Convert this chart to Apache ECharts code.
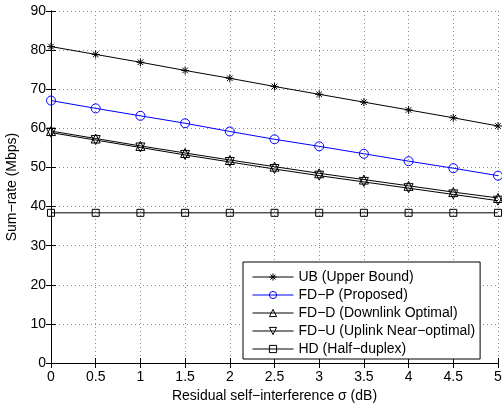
<!DOCTYPE html>
<html>
<head>
<meta charset="utf-8">
<script src="https://cdn.jsdelivr.net/npm/echarts@6/dist/echarts.min.js"></script>
<style>html,body{margin:0;padding:0;background:#fff;}#c{width:502px;height:405px;}</style>
</head>
<body>
<div id="c"></div>
<script>
var sigma = [0, 0.5, 1, 1.5, 2, 2.5, 3, 3.5, 4, 4.5, 5];
var ub  = [80.9, 78.9, 76.9, 74.8, 72.8, 70.7, 68.7, 66.7, 64.7, 62.7, 60.6];
var fdp = [67.1, 65.1, 63.2, 61.3, 59.2, 57.2, 55.4, 53.5, 51.6, 49.8, 47.9];
var fdd = [59.3, 57.4, 55.5, 53.7, 51.9, 50.2, 48.5, 46.9, 45.3, 43.7, 42.2];
var fdu = [58.9, 57.0, 55.1, 53.2, 51.4, 49.6, 47.9, 46.3, 44.7, 43.1, 41.5];
var hd  = [38.4, 38.4, 38.4, 38.4, 38.4, 38.4, 38.4, 38.4, 38.4, 38.4, 38.4];
var names = ['UB (Upper Bound)', 'FD\u2212P (Proposed)', 'FD\u2212D (Downlink Optimal)', 'FD\u2212U (Uplink Near\u2212optimal)', 'HD (Half\u2212duplex)'];
var xTicks = ['0', '0.5', '1', '1.5', '2', '2.5', '3', '3.5', '4', '4.5', '5'];

var FONT = '"Liberation Sans", Arial, Helvetica, sans-serif';
var star = 'path://M5,0 L5,10 M0,5 L10,5 M1.5,1.5 L8.5,8.5 M1.5,8.5 L8.5,1.5';
var downTri = 'path://M0,0 L10,0 L5,8.66 Z';

function pairs(v) { return sigma.map(function (s, i) { return [s, v[i]]; }); }
function ser(name, vals, color, symbol, size) {
  return {
    name: name, type: 'line', data: pairs(vals), symbol: symbol, symbolSize: size,
    showAllSymbol: true, animation: false,
    lineStyle: { color: color, width: 1 },
    itemStyle: { color: 'rgba(255,255,255,0)', borderColor: color, borderWidth: 1 },
    emphasis: { disabled: true }
  };
}

var chart = echarts.init(document.getElementById('c'));
var axisLine = { show: true, lineStyle: { color: '#000', width: 1 } };
var tick = { show: true, inside: true, length: 5, lineStyle: { color: '#000' } };
var grid = { show: true, lineStyle: { color: '#888', type: [1, 3], width: 1 } };
chart.setOption({
  animation: false,
  backgroundColor: '#fff',
  grid: { left: 51, right: 4, top: 11, bottom: 42, containLabel: false, outerBoundsMode: 'none' },
  xAxis: [{
    type: 'value', min: 0, max: 5, interval: 0.5, position: 'bottom',
    axisLine: axisLine, axisTick: tick, splitLine: grid,
    axisLabel: { color: '#000', fontFamily: FONT, fontSize: 14, margin: 7,
      formatter: function (v) { return xTicks[Math.round(v * 2)]; } },
    name: 'Residual self\u2212interference \u03c3 (dB)', nameLocation: 'middle', nameGap: 24,
    nameTextStyle: { color: '#000', fontFamily: FONT, fontSize: 14 }
  }, {
    type: 'value', min: 0, max: 5, interval: 0.5, position: 'top',
    axisLine: axisLine, axisTick: tick, splitLine: { show: false }, axisLabel: { show: false }
  }],
  yAxis: [{
    type: 'value', min: 0, max: 90, interval: 10, position: 'left',
    axisLine: axisLine, axisTick: tick, splitLine: grid,
    axisLabel: { color: '#000', fontFamily: FONT, fontSize: 14, margin: 5 },
    name: 'Sum\u2212rate (Mbps)', nameLocation: 'middle', nameGap: 26,
    nameTextStyle: { color: '#000', fontFamily: FONT, fontSize: 14 }
  }, {
    type: 'value', min: 0, max: 90, interval: 10, position: 'right',
    axisLine: axisLine, axisTick: tick, splitLine: { show: false }, axisLabel: { show: false }
  }],
  legend: {
    orient: 'vertical', left: 243, top: 262,
    padding: [7, 5, 2, 9], itemWidth: 41, itemHeight: 9, itemGap: 2,
    borderColor: '#000', borderWidth: 1, backgroundColor: '#fff',
    itemStyle: { borderWidth: 1 },
    lineStyle: { width: 1 },
    textStyle: { color: '#000', fontFamily: FONT, fontSize: 14, lineHeight: 16 },
    data: names
  },
  series: [
    ser(names[0], ub, '#000', star, 8),
    ser(names[1], fdp, '#0000ff', 'circle', 9),
    ser(names[2], fdd, '#000', 'triangle', 9),
    ser(names[3], fdu, '#000', downTri, 9),
    ser(names[4], hd, '#000', 'rect', 7)
  ]
});
</script>
</body>
</html>
